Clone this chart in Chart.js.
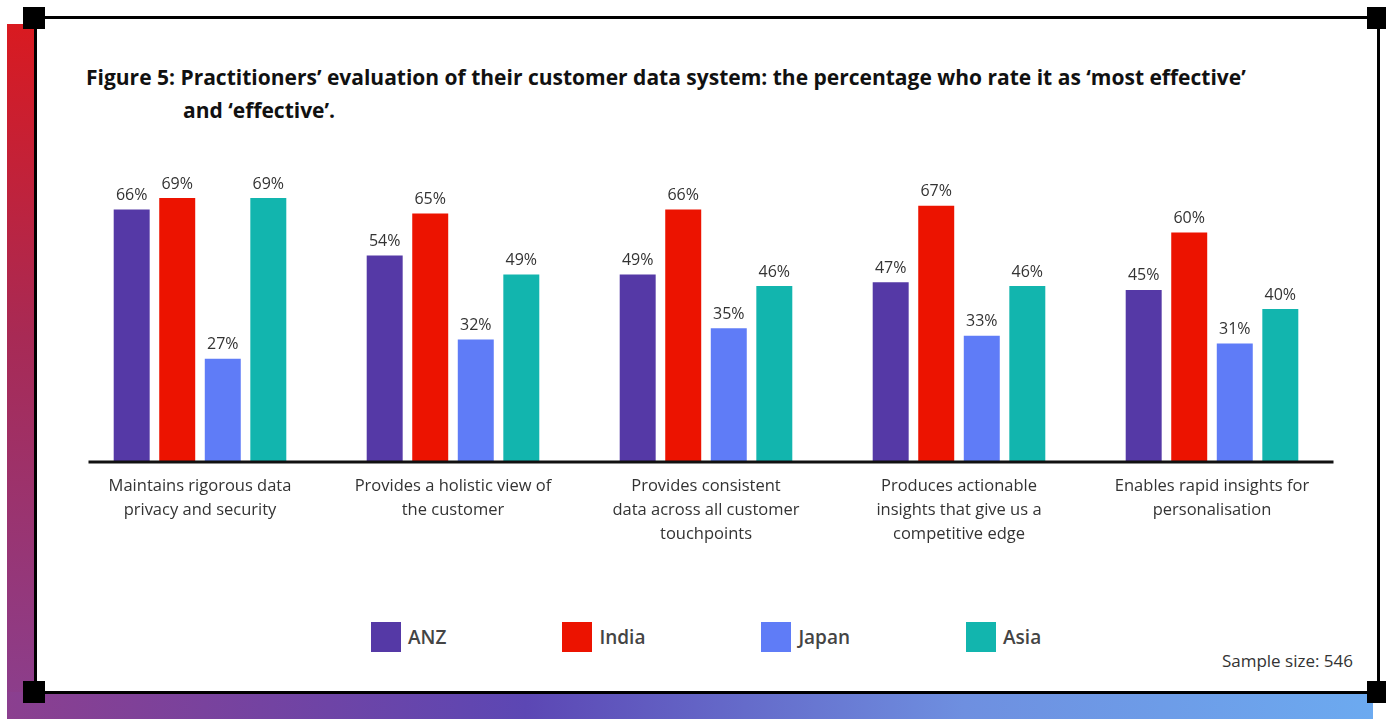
<!DOCTYPE html>
<html>
<head>
<meta charset="utf-8">
<script src="https://cdn.jsdelivr.net/npm/chart.js@4/dist/chart.umd.min.js"></script>
<style>
  html, body { margin: 0; padding: 0; background: #fff; }
  body { width: 1386px; height: 719px; position: relative; overflow: hidden; font-family: 'Open Sans', sans-serif; }
  .strip-left { position: absolute; left: 7px; top: 24px; width: 28px; height: 695px;
    background: linear-gradient(to bottom, #d91a20 0%, #a82a55 45%, #8a3f8f 100%); }
  .strip-bottom { position: absolute; left: 7px; top: 692px; width: 1366px; height: 27px;
    background: linear-gradient(to right, #8b3f8f 0%, #5c47b4 38%, #6e8fe0 70%, #6caaf0 100%); }
  .frame { position: absolute; left: 34px; top: 16px; width: 1346px; height: 678px; box-sizing: border-box;
    border: 3px solid #000; background: #fff; }
  .corner { position: absolute; width: 22px; height: 22px; background: #000; }
  .title { position: absolute; left: 86px; top: 61px; font-weight: 700; font-size: 21px; color: #111; line-height: 33px; white-space: nowrap; }
  .title .l2 { padding-left: 97px; }
  #chartWrap { position: absolute; left: 0; top: 0; width: 1386px; height: 600px; }
  #legend { position: absolute; left: 371px; top: 622px; display: flex; gap: 116px; }
  .legend-item { display: flex; align-items: center; }
  .legend-box { width: 30px; height: 30px; margin-right: 7px; }
  .legend-text { font-size: 19px; font-weight: 600; color: #444; }
  .sample { position: absolute; right: 33px; top: 649px; font-size: 17px; color: #333; }
</style>
</head>
<body>
<div class="strip-left"></div>
<div class="strip-bottom"></div>
<div class="frame"></div>
<div class="corner" style="left:23px;top:7px"></div>
<div class="corner" style="left:1367px;top:7px"></div>
<div class="corner" style="left:23px;top:681px"></div>
<div class="corner" style="left:1367px;top:681px"></div>

<div class="title">Figure 5: Practitioners’ evaluation of their customer data system: the percentage who rate it as ‘most effective’<br><span class="l2">and ‘effective’.</span></div>

<div id="chartWrap"><canvas id="chart"></canvas></div>
<div id="legend"></div>
<div class="sample">Sample size: 546</div>

<script>
const categories = [
  ['Maintains rigorous data', 'privacy and security'],
  ['Provides a holistic view of', 'the customer'],
  ['Provides consistent', 'data across all customer', 'touchpoints'],
  ['Produces actionable', 'insights that give us a', 'competitive edge'],
  ['Enables rapid insights for', 'personalisation']
];
const regions = ['ANZ', 'India', 'Japan', 'Asia'];
const regionColors = ['#5539a6', '#ec1300', '#5f7cf7', '#12b5ae'];

const anzValues = [66, 54, 49, 47, 45];
const indiaValues = [69, 65, 66, 67, 60];
const japanValues = [27, 32, 35, 33, 31];
const asiaValues = [69, 49, 46, 46, 40];

const seriesValues = [anzValues, indiaValues, japanValues, asiaValues];

// Percent labels above every bar
const valueLabels = {
  id: 'valueLabels',
  afterDatasetsDraw(chart) {
    const ctx = chart.ctx;
    ctx.save();
    ctx.font = '16px "Open Sans", sans-serif';
    ctx.fillStyle = '#333';
    ctx.textAlign = 'center';
    ctx.textBaseline = 'bottom';
    chart.data.datasets.forEach((ds, i) => {
      chart.getDatasetMeta(i).data.forEach((bar, j) => {
        ctx.fillText(ds.data[j] + '%', bar.x, bar.y - 6);
      });
    });
    ctx.restore();
  }
};

// Baseline rule under the bars
const baseLine = {
  id: 'baseLine',
  afterDatasetsDraw(chart) {
    const { ctx, chartArea } = chart;
    const y = chart.scales.y.getPixelForValue(0);
    ctx.save();
    ctx.strokeStyle = '#111';
    ctx.lineWidth = 3;
    ctx.beginPath();
    ctx.moveTo(chartArea.left + 15, y);
    ctx.lineTo(chartArea.right - 5, y);
    ctx.stroke();
    ctx.restore();
  }
};

const ctx = document.getElementById('chart').getContext('2d');
new Chart(ctx, {
  type: 'bar',
  data: {
    labels: categories,
    datasets: regions.map((name, i) => ({
      label: name,
      data: seriesValues[i],
      backgroundColor: regionColors[i],
      borderWidth: 0,
      categoryPercentage: 0.72,
      barPercentage: 0.79
    }))
  },
  options: {
    responsive: true,
    maintainAspectRatio: false,
    animation: false,
    layout: {
      padding: { left: 73.5, right: 47.5, top: 156, bottom: 38 }
    },
    plugins: {
      legend: { display: false },
      tooltip: { enabled: false }
    },
    scales: {
      x: {
        grid: { display: false, drawTicks: false },
        border: { display: false },
        ticks: {
          padding: 12,
          color: '#333',
          font: { family: 'Open Sans', size: 16.5, lineHeight: 1.45 },
          maxRotation: 0,
          autoSkip: false
        },
        afterFit: scale => { scale.height = 100; }
      },
      y: {
        display: false,
        min: 0,
        max: 80
      }
    }
  },
  plugins: [valueLabels, baseLine]
});

// Legend row
const legendEl = document.getElementById('legend');
regions.forEach((name, i) => {
  const item = document.createElement('div');
  item.className = 'legend-item';
  item.innerHTML = '<div class="legend-box" style="background:' + regionColors[i] + '"></div>' +
    '<span class="legend-text">' + name + '</span>';
  legendEl.appendChild(item);
});
</script>
</body>
</html>
